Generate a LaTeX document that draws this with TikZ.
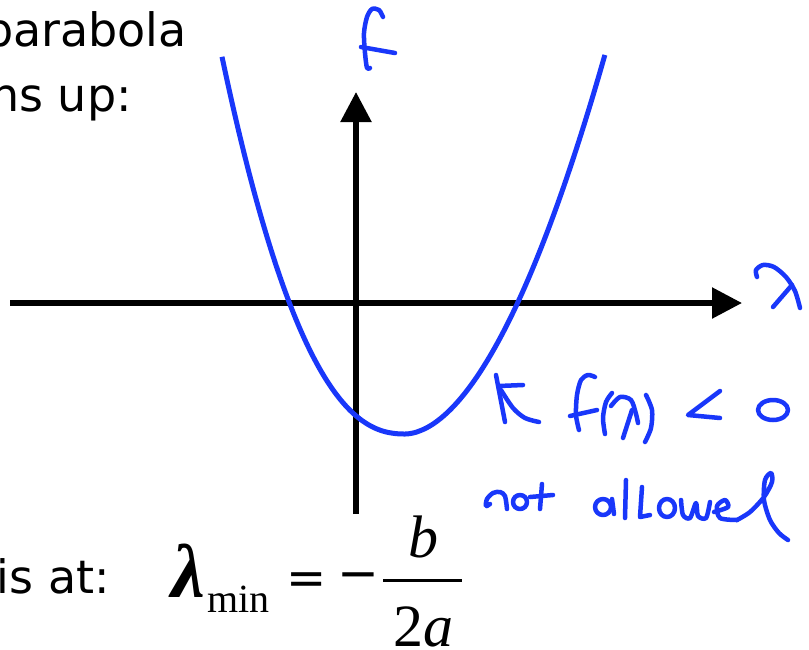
\documentclass[tikz,border=0pt]{standalone}
\usepackage{fontspec}
\setmainfont{DejaVu Sans}
\newfontfamily\tms{Liberation Serif}
\usetikzlibrary{arrows.meta}
\definecolor{pen}{RGB}{25,55,250}
\begin{document}
\begin{tikzpicture}[x=1pt,y=-1pt,
  axis/.style={line width=5.5pt,-{Triangle[length=30pt,width=30pt]}},
  ink/.style={draw=pen,line width=4.5pt,line cap=round,line join=round},
  curve/.style={draw=pen,line width=5pt,line join=round},
  body/.style={inner sep=0pt,font=\fontsize{46}{55}\selectfont},
  mth/.style={inner sep=0pt,font=\tms\fontsize{60}{70}\selectfont\itshape}]
\useasboundingbox (0,0) rectangle (809,649);
\clip (0,0) rectangle (809,649);
\fill[white] (0,0) rectangle (809,649);
% texts
\node[body,anchor=base east] (t1) at (187,46) {parabola};
\node[body,anchor=base east] (t2) at (132,111) {ns up:};
\node[body,anchor=base east] (t3) at (110,593) {is at:};
% formula
\node[mth,anchor=base west] (lam) at (171,597) {\fontsize{76}{80}\selectfont\bfseries λ};
\node[inner sep=0pt,anchor=base west,font=\tms\fontsize{40}{48}\selectfont] (mn) at (207,612) {min};
\node[inner sep=0pt,font=\fontsize{48}{60}\selectfont] (eq) at (307,584) {=};
\node[inner sep=0pt,font=\fontsize{50}{60}\selectfont] (mi) at (358,582) {−};
\node[mth,anchor=base] (nb) at (423,557) {b};
\node[mth,anchor=base] (dn) at (423,646) {\upshape 2\itshape a};
\draw[line width=3pt] (383,580) -- (462,580);
% axes
\coordinate (xs) at (10,303);
\coordinate (xe) at (742,303);
\coordinate (ys) at (356,514);
\coordinate (ye) at (356,92);
\draw[axis] (xs) -- (xe);
\draw[axis] (ys) -- (ye);
% parabola (t = offset/100 px)
\draw[curve] plot[domain=-1.83:-0.001,samples=90] ({405+100*\x},{434-94*pow(abs(\x),2.3)})
  -- plot[domain=0.001:2,samples=90] ({405+100*\x},{434-105.3*pow(\x,1.85)});
% handwritten f
\draw[ink] plot[smooth] coordinates {(383,17) (379,10) (372,9) (367,17) (364,33) (365,53) (367,68) (370,68)};
\draw[ink] (361,47) -- (395,53);
% handwritten lambda on x axis
\draw[ink] plot[smooth] coordinates {(757,277) (756,270) (763,265) (774,267) (786,277) (795,291) (800,308)};
\draw[ink] (792,285) -- (773,307);
% small arrow
\draw[ink] (496,375) -- (505,422);
\draw[ink] (499,386) -- (523,385);
\draw[ink] plot[smooth] coordinates {(501,390) (513,408) (525,418) (539,422)};
% f(lambda) < 0
\draw[ink] plot[smooth] coordinates {(595,377) (588,375) (581,380) (577,395) (576,415) (579,430)};
\draw[ink] (570,416) -- (597,410);
\draw[ink] plot[smooth] coordinates {(612,393) (606,402) (603,418) (605,434)};
\draw[ink] plot[smooth] coordinates {(611,406) (620,397) (631,400) (636,414) (638,423)};
\draw[ink] (632,410) -- (623,438);
\draw[ink] plot[smooth] coordinates {(646,395) (652,410) (651,428) (645,442)};
\draw[ink] (720,391) -- (688,415) -- (720,418);
\draw[ink] (773,410) ellipse [x radius=15,y radius=10];
% not allowed
\draw[ink] plot[smooth] coordinates {(490,504) (486,506) (487,499) (493,493) (500,492) (505,496) (507,509)};
\draw[ink] (520,502) circle [radius=7];
\draw[ink] (542,484) -- (540,509);
\draw[ink] (530,497) -- (553,495);
\draw[ink] (603,507) circle [radius=8];
\draw[ink] (612,499) -- (614,514);
\draw[ink] (626,480) -- (625,518);
\draw[ink] (642,487) -- (640,517) -- (650,515);
\draw[ink] (667,508) circle [x radius=8, y radius=9];
\draw[ink] plot[smooth] coordinates {(681,500) (683,515) (690,518) (696,503) (698,516) (706,518) (710,502)};
\draw[ink] plot[smooth] coordinates {(714,512) (728,507) (725,500) (717,506) (720,518) (737,520)};
\draw[ink] plot[smooth] coordinates {(737,520) (750,512) (764,497) (772,482) (771,473) (765,480) (764,500) (770,520) (779,533) (788,540)};
\end{tikzpicture}
\end{document}
